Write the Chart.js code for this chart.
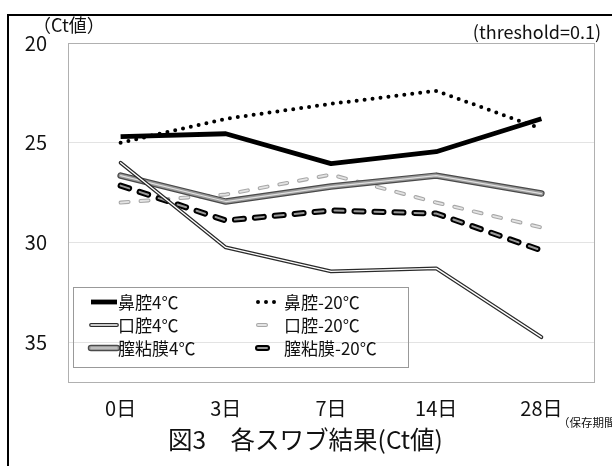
<!DOCTYPE html>
<html>
<head>
<meta charset="utf-8">
<script src="https://cdn.jsdelivr.net/npm/chart.js@4"></script>
<style>
  html, body { margin: 0; padding: 0; background: #fff; }
  #wrap { position: relative; width: 612px; height: 466px; overflow: hidden; font-family: "Noto Sans CJK JP", sans-serif; color: #111; }
  #frame { position: absolute; left: 7px; top: 14px; width: 700px; height: 600px; border-left: 2px solid #000; border-top: 2px solid #000; }
  canvas { position: absolute; left: 0; top: 0; }
  .lbl { position: absolute; white-space: nowrap; line-height: 1; }
</style>
</head>
<body>
<div id="wrap">
  <div id="frame"></div>
  <canvas id="c" width="612" height="466"></canvas>
  <div class="lbl" style="left:33px;top:15px;font-size:18px">（Ct値）</div>
  <div class="lbl" style="right:11px;top:22px;font-size:18px">(threshold=0.1)</div>
  <div class="lbl" style="left:168px;top:427px;font-size:24.5px">図3　各スワブ結果(Ct値)</div>
  <div class="lbl" style="left:558px;top:417px;font-size:11.5px">（保存期間）</div>
</div>
<script>
const categories = ['0日', '3日', '7日', '14日', '28日'];
const yTicks = [20, 25, 30, 35];

const nasal4 = [24.7, 24.55, 26.05, 25.45, 23.8];
const nasal20 = [25.0, 23.8, 23.05, 22.4, 24.3];
const oral4 = [26.0, 30.25, 31.45, 31.3, 34.75];
const oral20 = [28.0, 27.6, 26.6, 28.0, 29.25];
const vag4 = [26.65, 27.95, 27.2, 26.65, 27.55];
const vag20 = [27.15, 28.9, 28.4, 28.55, 30.4];

const seriesNames = ['鼻腔4℃', '鼻腔-20℃', '口腔4℃', '口腔-20℃', '膣粘膜4℃', '膣粘膜-20℃'];
const seriesData = [nasal4, nasal20, oral4, oral20, vag4, vag20];

// stroke layers per series (drawn bottom to top)
const seriesLayers = [
  [{ color: '#000', width: 4.8, dash: [], cap: 'butt' }],
  [{ color: '#000', width: 4, dash: [0, 8], cap: 'round' }],
  [{ color: '#2a2a2a', width: 3.8, dash: [], cap: 'round' }, { color: '#fff', width: 1.3, dash: [], cap: 'round' }],
  [{ color: '#a8a8a8', width: 4, dash: [8, 12], cap: 'round' }, { color: '#e4e4e4', width: 1.8, dash: [8, 12], cap: 'round' }],
  [{ color: '#4a4a4a', width: 6.5, dash: [], cap: 'round' }, { color: '#9a9a9a', width: 4, dash: [], cap: 'round' }, { color: '#e0e0e0', width: 1.2, dash: [], cap: 'round' }],
  [{ color: '#000', width: 6, dash: [9, 11], cap: 'round' }, { color: '#9a9a9a', width: 2, dash: [9, 11], cap: 'round' }]
];
const drawOrder = [3, 5, 4, 2, 1, 0];

let datasets = [];
drawOrder.forEach(i => {
  seriesLayers[i].forEach(l => {
    datasets.push({
      label: seriesNames[i],
      data: seriesData[i],
      borderColor: l.color,
      borderWidth: l.width,
      borderDash: l.dash,
      borderCapStyle: l.cap,
      borderJoinStyle: 'round',
      pointRadius: 0,
      tension: 0,
      fill: false
    });
  });
});
// Chart.js paints the first dataset last, so flip to keep the layer order
datasets = datasets.reverse();

const frameBox = {
  id: 'frameBox',
  beforeDatasetsDraw(chart) {
    const { ctx, chartArea: a } = chart;
    ctx.save();
    ctx.strokeStyle = '#b0b0b0';
    ctx.lineWidth = 1;
    ctx.strokeRect(Math.round(a.left) + 0.5, Math.round(a.top) + 0.5, Math.round(a.right - a.left), Math.round(a.bottom - a.top));
    ctx.restore();
  }
};

const boxLegend = {
  id: 'boxLegend',
  afterDraw(chart) {
    const ctx = chart.ctx;
    ctx.save();
    ctx.strokeStyle = '#999';
    ctx.lineWidth = 1;
    ctx.strokeRect(73.5, 287.5, 335, 80);
    ctx.font = '17px "Noto Sans CJK JP"';
    ctx.textBaseline = 'middle';
    ctx.fillStyle = '#111';
    seriesNames.forEach((name, i) => {
      const col = i % 2, row = Math.floor(i / 2);
      const y = 302 + row * 23;
      const x0 = col ? 258 : 91;
      const x1 = col ? 278 : 117;
      seriesLayers[i].forEach(l => {
        ctx.beginPath();
        ctx.strokeStyle = l.color;
        ctx.lineWidth = l.width;
        ctx.setLineDash(l.dash);
        ctx.lineCap = l.cap;
        ctx.moveTo(x0, y);
        ctx.lineTo(x1, y);
        ctx.stroke();
      });
      ctx.setLineDash([]);
      ctx.fillText(name, col ? 284 : 118, y + 1);
    });
    ctx.restore();
  }
};

new Chart(document.getElementById('c'), {
  type: 'line',
  data: { labels: categories, datasets: datasets },
  options: {
    responsive: false,
    animation: false,
    devicePixelRatio: 1,
    layout: { padding: { left: 0, top: 43, right: 18, bottom: 0 } },
    plugins: { legend: { display: false }, tooltip: { enabled: false } },
    scales: {
      x: {
        offset: true,
        afterFit: s => { s.height = 84; },
        grid: { display: false, drawTicks: false, offset: true },
        border: { display: false },
        ticks: { padding: 14, color: '#111', font: { family: '"Noto Sans CJK JP"', size: 20 } }
      },
      y: {
        reverse: true,
        min: 20,
        max: 37,
        afterFit: s => { s.width = 68; },
        afterBuildTicks: s => { s.ticks = yTicks.map(v => ({ value: v })); },
        grid: { drawTicks: false, color: c => (c.tick && c.tick.value === 20 ? 'rgba(0,0,0,0)' : '#e3e3e3') },
        border: { display: false },
        ticks: { padding: 21, color: '#111', font: { family: '"Noto Sans CJK JP"', size: 20 } }
      }
    }
  },
  plugins: [frameBox, boxLegend]
});
</script>
</body>
</html>
